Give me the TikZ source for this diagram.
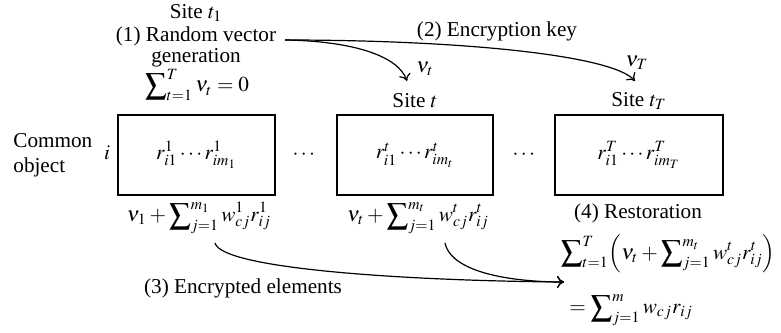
\documentclass[tikz,border=0pt]{standalone}
\usepackage{amsmath}
\usepackage{mathptmx}
\usepackage{fontspec}
\setmainfont{Liberation Serif}
\usetikzlibrary{arrows.meta}
\begin{document}
\begin{tikzpicture}[x=0.5pt,y=-0.5pt,
  every node/.style={font=\fontsize{10.6}{12.5}\selectfont, inner sep=0pt},
  objbox/.style={draw, line width=0.7pt, minimum height=40pt},
  conn/.style={line width=0.6pt, -{To[length=3.5pt,width=6pt]}}]
\useasboundingbox (0,0) rectangle (781,332);
% top texts
\node (site1) at (196,13) {Site $t_1$};
\node (rv) at (196,36) {(1) Random vector};
\node (gen) at (196,58) {generation};
\node (sum0) at (197,85) {$\displaystyle\sum\nolimits_{t=1}^{T}\nu_t = 0$};
\node (enc) at (497,31) {(2) Encryption key};
\node (vt) at (425,69) {$\nu_t$};
\node (vT) at (637,63) {$\nu_T$};
\node (sitet) at (415,101) {Site $t$};
\node (siteT) at (639,101) {Site $t_T$};
% boxes
\node[objbox, minimum width=78.5pt] (b1) at (196.5,155) {$r^1_{i1}\cdots r^1_{im_1}$};
\node[objbox, minimum width=78pt] (b2) at (415,155) {$r^t_{i1}\cdots r^t_{im_t}$};
\node[objbox, minimum width=84pt] (b3) at (639,155) {$r^T_{i1}\cdots r^T_{im_T}$};
\node[align=left, anchor=west] (common) at (13,155) {Common\\object};
\node (iobj) at (107,153) {$i$};
\node (d1) at (305,155) {$\cdots$};
\node (d2) at (525,155) {$\cdots$};
% bottom
\node (l1) at (199,218) {$\nu_1 + \displaystyle\sum\nolimits_{j=1}^{m_1} w^1_{cj} r^1_{ij}$};
\node (l2) at (418,218) {$\nu_t + \displaystyle\sum\nolimits_{j=1}^{m_t} w^t_{cj} r^t_{ij}$};
\node (rest) at (638,213) {(4) Restoration};
\node[anchor=east] (rsum) at (776,254) {$\displaystyle\sum\nolimits_{t=1}^{T}\Bigl(\nu_t + \sum\nolimits_{j=1}^{m_t} w^t_{cj} r^t_{ij}\Bigr)$};
\node[anchor=west] (eqs) at (569,310) {$= \displaystyle\sum\nolimits_{j=1}^{m} w_{cj} r_{ij}$};
\node (enc3) at (243,288) {(3) Encrypted elements};
% connector coordinates
\coordinate (s2) at (285,40);
\coordinate (e2a) at (407,81);
\coordinate (e2b) at (635,81);
\coordinate (s3a) at (215,243);
\coordinate (s3b) at (445,243);
\coordinate (e3) at (564,282);
\draw[conn] (s2) .. controls (350,41) and (398,55) .. (e2a);
\draw[conn] (s2) .. controls (460,40) and (612,55) .. (e2b);
\draw[conn] (s3a) .. controls (222,270) and (420,281) .. (e3);
\draw[conn] (s3b) .. controls (452,275) and (520,282) .. (e3);
\end{tikzpicture}
\end{document}
